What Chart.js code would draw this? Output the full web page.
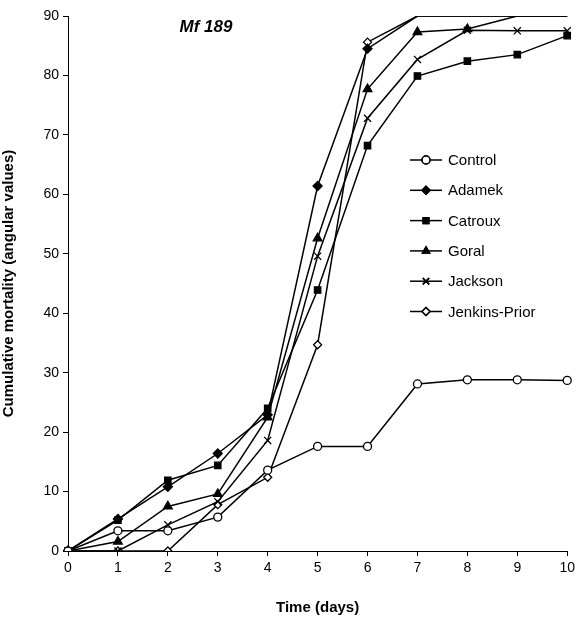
<!DOCTYPE html>
<html>
<head>
<meta charset="utf-8">
<script src="https://cdn.jsdelivr.net/npm/chart.js@4"></script>
<style>
  html, body { margin: 0; padding: 0; background: #fff; }
  #wrap { width: 579px; height: 617px; position: relative; }
</style>
</head>
<body>
<div id="wrap"><canvas id="mortalityChart"></canvas></div>
<script>
// Days and cumulative mortality (angular values)
const days = [0, 1, 2, 3, 4, 5, 6, 7, 8, 9, 10];
const control      = [0, 3.4, 3.4, 5.7, 13.6, 17.6, 17.6, 28.1, 28.8, 28.8, 28.7];
const adamek       = [0, 5.4, 10.8, 16.4, 22.9, 61.4, 84.5, 90, 90, 90, 90];
const catroux      = [0, 5.2, 11.9, 14.4, 24.0, 43.9, 68.2, 79.9, 82.4, 83.5, 86.7];
const goral        = [0, 1.6, 7.5, 9.6, 22.5, 52.6, 77.7, 87.3, 87.8, 90, 90];
const jackson      = [0, 0, 4.4, 8.3, 18.6, 49.6, 72.8, 82.7, 87.6, 87.5, 87.5];
const jenkinsPrior = [0, 0, 0, 7.8, 12.4, 34.7, 85.6, 90, 90, 90, 90];
const yTicks = [0, 10, 20, 30, 40, 50, 60, 70, 80, 90];

const FONT = '"Liberation Sans", Arial, sans-serif';

// marker hidden when the point sits on the top edge (as in the original)
function radiusFor(r) {
    return ctx => (ctx.raw >= 90 ? 0 : r);
}

function series(label, data, style, fill, r) {
    return {
        label: label,
        data: data,
        borderColor: '#000',
        borderWidth: 1.5,
        pointStyle: style,
        pointBackgroundColor: fill,
        pointBorderColor: '#000',
        pointBorderWidth: 1.3,
        pointRadius: radiusFor(r),
        tension: 0,
        fill: false
    };
}

const datasets = [
    series('Control', control, 'circle', '#fff', 4),
    series('Adamek', adamek, 'rectRot', '#000', 4.5),
    series('Catroux', catroux, 'rect', '#000', 4.5),
    series('Goral', goral, 'triangle', '#000', 5),
    series('Jackson', jackson, 'crossRot', '#000', 5),
    series('Jenkins-Prior', jenkinsPrior, 'rectRot', '#fff', 4)
];

// Legend inside the plot area plus the italic panel title
const overlayPlugin = {
    id: 'overlay',
    afterDraw: function(chart) {
        const ctx = chart.ctx;
        ctx.save();
        ctx.fillStyle = '#000';
        ctx.font = 'italic bold 17px ' + FONT;
        ctx.textAlign = 'center';
        ctx.textBaseline = 'middle';
        ctx.fillText('Mf 189', 206, 27);

        ctx.font = '15px ' + FONT;
        ctx.textAlign = 'left';
        chart.data.datasets.forEach((ds, i) => {
            const y = 160 + i * 30.3;
            ctx.strokeStyle = '#000';
            ctx.lineWidth = 1.5;
            ctx.beginPath();
            ctx.moveTo(410, y);
            ctx.lineTo(442, y);
            ctx.stroke();
            Chart.helpers.drawPoint(ctx, {
                pointStyle: ds.pointStyle,
                radius: ds.pointStyle === 'crossRot' ? 4.5 : 4,
                borderWidth: 1.3
            }, 426, y);
            ctx.fillStyle = ds.pointBackgroundColor;
            ctx.strokeStyle = '#000';
            ctx.fill();
            ctx.stroke();
            ctx.fillStyle = '#000';
            ctx.fillText(ds.label, 448, y + 1);
        });
        ctx.restore();
    }
};

const ctx = document.getElementById('mortalityChart').getContext('2d');
new Chart(ctx, {
    type: 'line',
    data: { labels: days, datasets: datasets },
    options: {
        responsive: true,
        maintainAspectRatio: false,
        animation: false,
        layout: { padding: { top: 16, right: 11, left: 0, bottom: 0 } },
        plugins: {
            legend: { display: false },
            tooltip: { enabled: false }
        },
        scales: {
            x: {
                offset: false,
                afterFit: scale => { scale.height = 66; },
                grid: { drawOnChartArea: false, color: '#000', tickLength: 5 },
                border: { color: '#000', width: 1 },
                ticks: { color: '#000', font: { family: FONT, size: 14 }, padding: 4, maxRotation: 0 },
                title: {
                    display: true,
                    text: 'Time (days)',
                    color: '#000',
                    font: { family: FONT, size: 15, weight: 'bold' },
                    padding: { top: 6, bottom: 0 }
                }
            },
            y: {
                min: 0,
                max: 90,
                afterFit: scale => { scale.width = 68; },
                afterBuildTicks: scale => { scale.ticks = yTicks.map(v => ({ value: v })); },
                grid: { drawOnChartArea: false, color: '#000', tickLength: 5 },
                border: { color: '#000', width: 1 },
                ticks: { color: '#000', font: { family: FONT, size: 14 }, padding: 4 },
                title: {
                    display: true,
                    text: 'Cumulative mortality (angular values)',
                    color: '#000',
                    font: { family: FONT, size: 15, weight: 'bold' },
                    padding: { top: 0, bottom: 4 }
                }
            }
        }
    },
    plugins: [overlayPlugin]
});
</script>
</body>
</html>
